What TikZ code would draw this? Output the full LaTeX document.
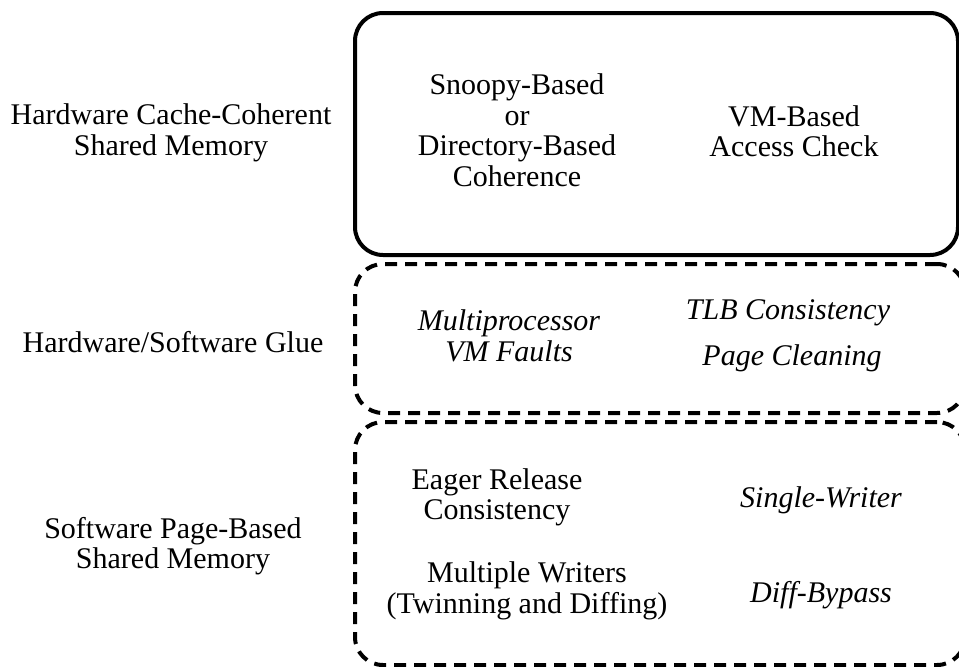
\documentclass[tikz,border=0pt]{standalone}
\usepackage{fontspec}
\setmainfont{Liberation Serif}
\usetikzlibrary{positioning}

\begin{document}
\begin{tikzpicture}[x=1pt,y=-1pt,
		layer/.style={draw,line width=4pt,rounded corners=28pt,inner sep=0pt},
		dashlayer/.style={layer,dash pattern=on 12pt off 8pt},
		lbl/.style={align=center,inner sep=0pt,font=\fontsize{30}{30.5}\selectfont},
		mech/.style={align=center,inner sep=0pt,font=\fontsize{30}{30.5}\selectfont\itshape}]
		\useasboundingbox (0,0) rectangle (959,667);

		% the three layers
		\draw (656.5,134) node [layer,minimum width=603,minimum height=242] (hw) {};
		\draw (660,338.5) node [dashlayer,minimum width=610,minimum height=149] (glue) {};
		\draw (660,543.5) node [dashlayer,minimum width=610,minimum height=243] (sw) {};

		% layer names
		\draw (171,133) node [lbl] (hwname) {Hardware Cache-Coherent\\Shared Memory};
		\draw (173,342) node [lbl] (gluename) {Hardware/Software Glue};
		\draw (173,546) node [lbl] (swname) {Software Page-Based\\Shared Memory};

		% hardware
		\draw (517,130) node [lbl] (coher) {Snoopy-Based\\or\\Directory-Based\\Coherence};
		\draw (794,131) node [lbl] (vmcheck) {VM-Based\\Access Check};

		% glue
		\draw (509,336) node [mech] (faults) {Multiprocessor\\VM Faults};
		\draw (788,313) node [mech] (tlb) {TLB Consistency};
		\draw (792,358) node [mech] (clean) {Page Cleaning};

		% software
		\draw (497,497.5) node [lbl] (erc) {Eager Release\\Consistency};
		\draw (821,500) node [mech] (single) {Single-Writer};
		\draw (527,591) node [lbl] (multi) {Multiple Writers\\(Twinning and Diffing)};
		\draw (821,595) node [mech] (bypass) {Diff-Bypass};
	\end{tikzpicture}
\end{document}
